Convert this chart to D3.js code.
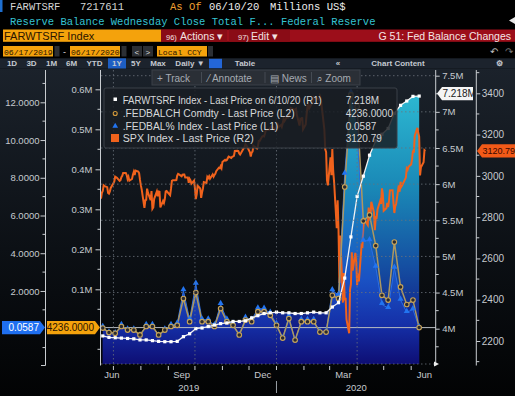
<!DOCTYPE html>
<html><head><meta charset="utf-8">
<script src="https://cdn.jsdelivr.net/npm/d3@7"></script>
<style>
html,body{margin:0;padding:0;background:#000;}
svg{display:block;}
text{font-family:"Liberation Sans",Arial,sans-serif;}
.mono{font-family:"Liberation Mono","DejaVu Sans Mono",monospace;}
</style></head><body>
<svg id="chart" width="515" height="396"></svg>
<script>
// weekly H.4.1 series (Wednesdays 6/19/19 .. 6/10/20)
const weekStart = new Date(2019, 5, 19), weekEnd = new Date(2020, 5, 11);
const farwtsrf = [3.90,3.88,3.875,3.87,3.865,3.86,3.845,3.845,3.835,3.825,3.82,3.82,3.825,
  3.89,3.93,4.00,4.01,4.03,4.05,4.07,4.08,4.10,4.10,4.11,4.15,4.18,4.21,4.22,4.23,4.22,4.22,4.21,4.21,4.22,4.23,4.22,4.22,
  4.30,4.36,4.70,5.27,5.83,6.11,6.40,6.60,6.69,6.77,6.98,7.09,7.15,7.214,7.218];          // R1, millions of millions
const fedbalch = [0.003,-0.008,-0.010,0.007,-0.002,-0.002,-0.014,0.007,0.007,-0.014,-0.002,0.007,0.010,
  0.077,0.019,0.092,0.019,0.019,0.007,0.052,0.019,0.010,-0.014,0.023,0.019,0.044,0.044,0.035,0.010,-0.022,0.027,-0.027,0.019,0.019,0.019,-0.007,-0.007,
  0.085,0.077,0.356,0.586,0.557,0.271,0.286,0.209,0.085,0.073,0.218,0.106,0.062,0.073,0.004236]; // L2
const fedbalPct = [0.08,-0.21,-0.26,0.18,-0.05,-0.05,-0.36,0.18,0.18,-0.37,-0.05,0.18,0.26,
  2.02,0.49,2.37,0.48,0.48,0.17,1.29,0.47,0.25,-0.34,0.56,0.46,1.06,1.05,0.83,0.24,-0.52,0.64,-0.64,0.45,0.45,0.45,-0.17,-0.17,
  2.02,1.79,8.2,12.5,10.6,4.65,4.68,3.27,1.29,1.09,3.22,1.52,0.87,1.02,0.0587];          // L1

// SPX daily closes 6/17/19 .. 6/17/20 (R2)
const spxStart = new Date(2019, 5, 17), spxEnd = new Date(2020, 5, 18);
const holidays = ['2019-07-04','2019-09-02','2019-11-28','2019-12-25','2020-01-01','2020-01-20','2020-02-17','2020-04-10','2020-05-25'];
const spx = [
  2889.7,2917.8,2926.5,2954.2,2950.5,2945.4,2917.4,2913.8,2924.9,2941.8,
  2964.3,2973.0,2995.8,2990.4,2975.9,2979.6,2993.1,2999.9,3013.8,3014.3,3004.0,2984.4,2995.1,2976.6,2985.0,3005.5,3019.6,3003.7,3025.9,3021.0,3013.2,2980.4,
  2953.6,2932.1,2844.7,2881.8,2884.0,2938.1,2918.7,2882.7,2926.3,2840.6,2847.6,2888.7,2923.7,2900.5,2924.4,2923.0,2847.1,2878.4,2869.2,2887.9,2924.6,2926.5,
  2906.3,2937.8,2976.0,2978.7,2978.4,2979.4,3000.9,3009.6,3007.4,2998.0,3005.7,3006.7,3006.8,2992.1,2991.8,2966.6,2984.9,2977.6,2961.8,2976.7,
  2940.3,2887.6,2910.6,2952.0,2938.8,2893.1,2919.4,2938.1,2970.3,2966.2,2995.7,2989.7,2998.0,2986.2,3006.7,2996.0,3004.5,3010.3,3022.6,3039.4,3036.9,3046.8,3037.6,
  3066.9,3078.3,3074.6,3076.8,3085.2,3093.1,3087.0,3091.8,3094.0,3096.6,3120.5,3122.0,3120.2,3108.5,3103.5,3110.3,3133.6,3140.5,3153.6,3141.0,
  3113.9,3093.2,3112.8,3117.4,3145.9,3136.0,3132.5,3141.6,3168.6,3168.8,3191.5,3192.5,3191.1,3205.4,3221.2,3224.0,3223.4,3239.9,3240.0,3221.3,3230.8,
  3257.9,3234.9,3246.3,3237.2,3253.1,3274.7,3265.4,3288.1,3283.2,3289.3,3316.8,3329.6,3320.8,3321.8,3325.5,3295.5,3243.6,3276.2,3273.4,3283.7,3225.5,
  3248.9,3297.6,3334.7,3345.8,3327.7,3352.1,3357.8,3379.5,3373.9,3380.2,3370.3,3386.2,3373.2,3337.8,3225.9,3128.2,3116.4,2978.8,2954.2,
  3090.2,3003.4,3130.1,3023.9,2972.4,2746.6,2882.2,2741.4,2480.6,2711.0,2386.1,2529.2,2398.1,2409.4,2304.9,2237.4,2447.3,2475.6,2630.1,2541.5,2626.7,2584.6,
  2470.5,2526.9,2488.7,2663.7,2659.4,2750.0,2789.8,2761.6,2846.1,2783.4,2799.6,2874.6,2823.2,2736.6,2799.3,2797.8,2836.7,2878.5,2863.4,2939.5,2912.4,
  2830.7,2842.7,2868.4,2848.4,2881.2,2929.8,2930.2,2870.1,2820.0,2852.5,2863.7,2953.9,2922.9,2971.6,2948.5,2955.5,2991.8,3036.1,3029.7,3044.3,
  3055.7,3080.8,3122.9,3112.4,3193.9,3232.4,3207.2,3190.1,3002.1,3041.3,3066.6,3124.7,3120.79];

const L1ticks = [2,4,6,8,10,12], L2ticks = [0.1,0.2,0.3,0.4,0.5,0.6];
const R1ticks = [4,4.5,5,5.5,6,6.5,7,7.5], R2ticks = [2200,2400,2600,2800,3000,3200,3400];
const legendRows = ['FARWTSRF Index - Last Price on 6/10/20 (R1)','.FEDBALCH Comdty - Last Price (L2)','.FEDBAL% Index - Last Price (L1)','SPX Index - Last Price (R2)'];
const legendVals = ['7.218M','4236.0000','0.0587','3120.79'];

const fmt = d3.timeFormat('%Y-%m-%d');
const weeks = d3.timeWednesday.range(weekStart, weekEnd);
const weekly = weeks.map((d,i) => ({date:d, r1:farwtsrf[i], ch:fedbalch[i], pct:fedbalPct[i]}));
const tradeDays = d3.timeDay.range(spxStart, spxEnd).filter(d => d.getDay()%6 !== 0 && !holidays.includes(fmt(d)));
const spxData = tradeDays.map((d,i) => ({date:d, v:spx[i]}));

const X0 = 101, X1 = 436, Y0 = 70, Y1 = 364;
const x = d3.scaleTime().domain([new Date(2019,5,17), new Date(2020,5,29)]).range([X0, X1]);
const yR1 = d3.scaleLinear().domain([4, 7.5]).range([328.7, 75.7]);
const yL1 = d3.scaleLinear().domain([0, 12]).range([328.7, 102.3]);
const yL2 = d3.scaleLinear().domain([0, 0.6]).range([329.3, 89.3]);
const yR2 = d3.scaleLinear().domain([2200, 3400]).range([341, 93.3]);

const svg = d3.select('#chart');
const defs = svg.append('defs');

function grad(id, stops, y1, y2) {
  const g = defs.append('linearGradient').attr('id', id).attr('gradientUnits','userSpaceOnUse')
    .attr('x1',0).attr('x2',0).attr('y1',y1).attr('y2',y2);
  stops.forEach(s => g.append('stop').attr('offset', s[0]).attr('stop-color', s[1]));
}
grad('bg', [[0,'#1b222b'],[0.55,'#0c1015'],[1,'#020304']], 68, 396);
grad('gR1', [[0,'#0e0e74'],[0.12,'#111a86'],[0.35,'#1550a2'],[0.62,'#1a88b6'],[1,'#2fbfd6']], Y1, 80);
grad('gPct', [[0,'#0e0e74'],[0.14,'#1530a8'],[0.3,'#1a52c4'],[0.6,'#1a88bd'],[1,'#2fbfd6']], Y1, 80);
defs.append('clipPath').attr('id','plot').append('rect').attr('x',X0).attr('y',Y0).attr('width',X1-X0).attr('height',Y1-Y0);

// header
svg.append('rect').attr('width',515).attr('height',69).attr('fill','#000');
svg.append('rect').attr('x',0).attr('y',0).attr('width',2.5).attr('height',12).attr('fill','#1e6fd0');
const h1 = [['FARWTSRF',10,'#d4d4d4'],['7217611',80,'#d4d4d4'],['As Of',170,'#f0a030'],['06/10/20',209,'#eeeeee'],['Millions US$',270,'#eeeeee']];
h1.forEach(t => svg.append('text').attr('class','mono').attr('x',t[1]).attr('y',10).attr('font-size',10.5).attr('fill',t[2]).text(t[0]));
svg.append('text').attr('class','mono').attr('x',10).attr('y',24.5).attr('font-size',10.5).attr('fill','#35c3d2')
  .text('Reserve Balance Wednesday Close Total F...  Federal Reserve');
svg.append('path').attr('d','M515,17 L509,20.5 L515,24 Z').attr('fill','#e8e8e8');

// row 3
svg.append('rect').attr('x',161).attr('y',29.5).attr('width',354).attr('height',12.3).attr('fill','#9c0e1a');
svg.append('rect').attr('x',161).attr('y',29.5).attr('width',66).attr('height',12.3).attr('fill','#8a0c16');
svg.append('rect').attr('x',229).attr('y',29.5).attr('width',61).attr('height',12.3).attr('fill','#8a0c16');
svg.append('rect').attr('x',3).attr('y',29.5).attr('width',158).attr('height',12.3).attr('fill','#f4a20c');
svg.append('text').attr('x',4).attr('y',39.5).attr('font-size',11).attr('fill','#2a1400').text('FARWTSRF Index');
[['96)',166,'Actions ▾',180],['97)',238,'Edit ▾',251]].forEach(t => {
  svg.append('text').attr('x',t[1]).attr('y',39.5).attr('font-size',7.5).attr('fill','#f2e2e2').text(t[0]);
  svg.append('text').attr('x',t[3]).attr('y',39.5).attr('font-size',10.5).attr('fill','#f2e2e2').text(t[2]);
});
svg.append('text').attr('x',511).attr('y',39.5).attr('font-size',10.5).attr('text-anchor','end').attr('fill','#f4e6e6').text('G 51: Fed Balance Changes');

// row 4
[['06/17/2019',3,50],['06/17/2020',70,50],['Local CCY',157,50]].forEach(t => {
  svg.append('rect').attr('x',t[1]).attr('y',46).attr('width',t[2]).attr('height',10.5).attr('fill','#f4a20c');
  svg.append('text').attr('class','mono').attr('x',t[1]+1).attr('y',54.5).attr('font-size',8.1).attr('fill','#2a1400').text(t[0]);
});
[[54.5,5],[121.5,5],[132,10],[143,10],[208,5]].forEach(b => svg.append('rect').attr('x',b[0]).attr('y',46).attr('width',b[1]).attr('height',10.5).attr('fill','#2c2f34'));
svg.append('text').attr('x',63).attr('y',54.5).attr('font-size',9).attr('fill','#ddd').text('-');
svg.append('text').attr('x',134.5).attr('y',54.5).attr('font-size',8).attr('fill','#ddd').text('<');
svg.append('text').attr('x',145.5).attr('y',54.5).attr('font-size',8).attr('fill','#ddd').text('>');
svg.append('text').attr('x',490).attr('y',55).attr('font-size',10).attr('fill','#bbb').text('↶');
svg.append('text').attr('x',505).attr('y',55).attr('font-size',10).attr('fill','#777').text('↷');

// row 5
svg.append('rect').attr('x',0).attr('y',58.3).attr('width',515).attr('height',10.4).attr('fill','#1c232d');
svg.append('rect').attr('x',108).attr('y',58.3).attr('width',18).attr('height',10.4).attr('fill','#1d5ec4');
svg.append('rect').attr('x',209).attr('y',58.8).attr('width',13).attr('height',9.5).attr('fill','#2366d8');
const btns = [['1D',12],['3D',31.5],['1M',51.5],['6M',71.5],['YTD',94.5],['1Y',117],['5Y',136],['Max',158],['Daily ▼',190],['Table',245],['«',338],['Chart Content',398],['⚙',499]];
btns.forEach(b => svg.append('text').attr('x',b[1]).attr('y',66.3).attr('font-size',8).attr('font-weight','bold')
  .attr('text-anchor','middle').attr('fill','#c4c9d0').text(b[0]));

// chart background
svg.append('rect').attr('x',0).attr('y',68.7).attr('width',515).attr('height',328).attr('fill','url(#bg)');

const plot = svg.append('g').attr('clip-path','url(#plot)');
const areaR1 = d3.area().x(d => x(d.date)).y0(Y1).y1(d => yR1(d.r1));
const areaPct = d3.area().x(d => x(d.date)).y0(Y1).y1(d => yL1(d.pct));
plot.append('path').datum(weekly).attr('d',areaR1).attr('fill','url(#gR1)');
plot.append('path').datum(weekly).attr('d',areaPct).attr('fill','url(#gPct)');

// grid
const grid = svg.append('g').attr('stroke','#6b727b').attr('stroke-dasharray','1.5,2.5').attr('stroke-width',0.8);
[4.5,5,5.5,6,6.5,7,7.5].forEach(v => grid.append('line').attr('x1',X0).attr('x2',X1).attr('y1',yR1(v)).attr('y2',yR1(v)));
[new Date(2019,6,1),new Date(2019,9,1),new Date(2020,0,1),new Date(2020,3,1)].forEach(d =>
  grid.append('line').attr('x1',x(d)).attr('x2',x(d)).attr('y1',Y0).attr('y2',Y1));
grid.append('line').attr('x1',X0).attr('x2',X1).attr('y1',Y1).attr('y2',Y1);

// last price line (L2)
plot.append('line').attr('x1',X0).attr('x2',X1).attr('y1',yL2(fedbalch[51])).attr('y2',yL2(fedbalch[51]))
  .attr('stroke','#b8bcc0').attr('stroke-width',1);

// SPX
plot.append('path').datum(spxData).attr('d', d3.line().x(d => x(d.date)).y(d => yR2(d.v)))
  .attr('fill','none').attr('stroke','#f0621c').attr('stroke-width',2).attr('stroke-linejoin','miter');

// FEDBAL% edge + triangles
plot.append('path').datum(weekly).attr('d', d3.line().x(d => x(d.date)).y(d => yL1(d.pct)))
  .attr('fill','none').attr('stroke','#2a6ee6').attr('stroke-width',1);
// FEDBALCH
plot.append('path').datum(weekly).attr('d', d3.line().x(d => x(d.date)).y(d => yL2(d.ch)))
  .attr('fill','none').attr('stroke','#ad9860').attr('stroke-width',1.5);
plot.selectAll('path.tri').data(weekly).join('path').attr('class','tri')
  .attr('d', d3.symbol(d3.symbolTriangle, 16))
  .attr('transform', d => `translate(${x(d.date)},${yL1(d.pct)-1})`).attr('fill','#2274f0');
plot.selectAll('circle.ch').data(weekly).join('circle').attr('class','ch')
  .attr('cx', d => x(d.date)).attr('cy', d => yL2(d.ch)).attr('r',2.3)
  .attr('fill','#2a2a30').attr('stroke','#c8a458').attr('stroke-width',1.1);
// FARWTSRF
plot.append('path').datum(weekly).attr('d', d3.line().x(d => x(d.date)).y(d => yR1(d.r1)))
  .attr('fill','none').attr('stroke','#f2f2f2').attr('stroke-width',1.3);
plot.selectAll('rect.r1').data(weekly).join('rect').attr('class','r1')
  .attr('x', d => x(d.date)-1.6).attr('y', d => yR1(d.r1)-1.6).attr('width',3.2).attr('height',3.2).attr('fill','#fff');

// axes
function styleAxis(g) {
  g.select('.domain').remove();
  g.selectAll('line').attr('stroke','#c8ccd0');
  g.selectAll('text').attr('fill','#c6cacf').attr('font-size',9.5).attr('font-family','"Liberation Sans",Arial,sans-serif');
}
function minor(xPos, scale, vals, dir) {
  vals.forEach(v => svg.append('line').attr('x1',xPos).attr('x2',xPos+dir*3).attr('y1',scale(v)).attr('y2',scale(v)).attr('stroke','#c8ccd0'));
}
const axLine = (xp) => svg.append('line').attr('x1',xp).attr('x2',xp).attr('y1',Y0).attr('y2',Y1+1.5).attr('stroke','#c8ccd0');
axLine(45.5); axLine(100.5); axLine(435.7); axLine(476.3);
svg.append('g').attr('transform','translate(45.5,0)')
  .call(d3.axisLeft(yL1).tickValues(L1ticks).tickFormat(d3.format('.4f')).tickSize(5).tickPadding(1)).call(styleAxis);
minor(45.5, yL1, [-1,1,3,5,7,9,11,13], -1);
svg.append('g').attr('transform','translate(100.5,0)')
  .call(d3.axisLeft(yL2).tickValues(L2ticks).tickFormat(d => d.toFixed(1)+'M').tickSize(5).tickPadding(3)).call(styleAxis);
minor(100.5, yL2, [-0.05,0.05,0.15,0.25,0.35,0.45,0.55], -1);
svg.append('g').attr('transform','translate(435.7,0)')
  .call(d3.axisRight(yR1).tickValues(R1ticks).tickFormat(d => d+'M').tickSize(4).tickPadding(2.5)).call(styleAxis);
minor(435.7, yR1, [3.75,4.25,4.75,5.25,5.75,6.25,6.75,7.25], 1);
svg.append('g').attr('transform','translate(476.3,0)')
  .call(d3.axisRight(yR2).tickValues(R2ticks).tickFormat(d3.format('d')).tickSize(4).tickPadding(1.5)).call(styleAxis)
  .selectAll('text').attr('font-size',10);
minor(476.3, yR2, [2100,2300,2500,2700,2900,3100,3300,3500], 1);
svg.append('line').attr('x1',41).attr('x2',45.5).attr('y1',Y1+1.5).attr('y2',Y1+1.5).attr('stroke','#c8ccd0');
svg.append('path').attr('d',`M${X1-2},${Y1-2.5} L${X1+3},${Y1} L${X1-2},${Y1+2.5} Z`).attr('fill','#eee');

// x axis
const months = d3.timeMonth.range(new Date(2019,6,1), new Date(2020,6,1));
months.forEach(d => svg.append('line').attr('x1',x(d)).attr('x2',x(d)).attr('y1',Y1+2).attr('y2',Y1+6).attr('stroke','#c8ccd0'));
const monthLabels = [[new Date(2019,5,1),'Jun'],[new Date(2019,8,1),'Sep'],[new Date(2019,11,1),'Dec'],[new Date(2020,2,1),'Mar'],[new Date(2020,5,1),'Jun']];
monthLabels.forEach(m => {
  const mid = (x(m[0]) + x(d3.timeMonth.offset(m[0],1))) / 2;
  svg.append('text').attr('x', Math.max(mid, X0+11)).attr('y',377.5).attr('text-anchor','middle')
    .attr('font-size',9.5).attr('fill','#c6cacf').text(m[1]);
});
const yb = x(new Date(2020,0,1));
svg.append('line').attr('x1',yb).attr('x2',yb).attr('y1',381).attr('y2',393).attr('stroke','#9aa0a6');
svg.append('text').attr('x',(X0+yb)/2).attr('y',391).attr('text-anchor','middle').attr('font-size',9.5).attr('fill','#c6cacf').text('2019');
svg.append('text').attr('x',(yb+X1)/2).attr('y',391).attr('text-anchor','middle').attr('font-size',9.5).attr('fill','#c6cacf').text('2020');

// last value tags
function tag(xL, xR, yc, dir, fill, txt, tcol, fs) {
  const h = 6.6, tip = 5;
  const d = dir > 0
    ? `M${xL},${yc-h} L${xR-tip},${yc-h} L${xR},${yc} L${xR-tip},${yc+h} L${xL},${yc+h} Z`
    : `M${xL},${yc} L${xL+tip},${yc-h} L${xR},${yc-h} L${xR},${yc+h} L${xL+tip},${yc+h} Z`;
  svg.append('path').attr('d',d).attr('fill',fill);
  svg.append('text').attr('x', dir > 0 ? xR-tip-1 : xL+tip+0.5).attr('y',yc+3.4).attr('text-anchor', dir > 0 ? 'end' : 'start')
    .attr('font-size',fs || 10).attr('fill',tcol).text(txt);
}
tag(2, 45, yL1(fedbalPct[51]), 1, '#1f6ff0', '0.0587', '#ffffff');
tag(47, 100, yL2(fedbalch[51]), 1, '#f4a20c', '4236.0000', '#2a1400');
tag(437, 473, yR1(farwtsrf[51]) - 2.5, -1, '#f4f4f4', '7.218M', '#202020');
tag(477, 516, yR2(spx[spx.length-1]), -1, '#f25a18', '3120.79', '#3a0800', 9);

// legend
const lg = svg.append('g');
lg.append('rect').attr('x',104).attr('y',88).attr('width',293).attr('height',60).attr('rx',2)
  .attr('fill','#191d23').attr('fill-opacity',0.85).attr('stroke','#3b4149');
const rowY = [103.5, 117, 129.5, 142];
const lw = [199, 172, 155.6, 131];
legendRows.forEach((t,i) => {
  lg.append('text').attr('x',122.7).attr('y',rowY[i]).attr('font-size',10).attr('fill','#d6d8da')
    .attr('textLength', lw[i]).attr('lengthAdjust','spacingAndGlyphs').text(t);
  lg.append('text').attr('x',345.7).attr('y',rowY[i]).attr('font-size',10).attr('fill','#d6d8da').text(legendVals[i]);
});
lg.append('rect').attr('x',113.5).attr('y',97.5).attr('width',3.5).attr('height',3.5).attr('fill','#fff');
lg.append('circle').attr('cx',115.2).attr('cy',113.5).attr('r',2).attr('fill','none').attr('stroke','#d39a3a').attr('stroke-width',1.1);
lg.append('path').attr('d',d3.symbol(d3.symbolTriangle,14)).attr('transform','translate(115.2,126)').attr('fill','#2274f0');
lg.append('rect').attr('x',111).attr('y',134).attr('width',8).attr('height',8).attr('fill','#f0621c');

// toolbar
const tb = svg.append('g');
tb.append('rect').attr('x',152).attr('y',70).attr('width',208).attr('height',15).attr('fill','#2a2f36').attr('stroke','#3a4048');
[201.5,265,311.5].forEach(s => tb.append('line').attr('x1',s).attr('x2',s).attr('y1',72).attr('y2',83).attr('stroke','#454b53'));
[['+ Track',157],['⁄ Annotate',208],['▤ News',270],['⌕ Zoom',316.5]].forEach(t =>
  tb.append('text').attr('x',t[1]).attr('y',81.5).attr('font-size',10).attr('fill','#a6abb2').text(t[0]));
</script></body></html>
